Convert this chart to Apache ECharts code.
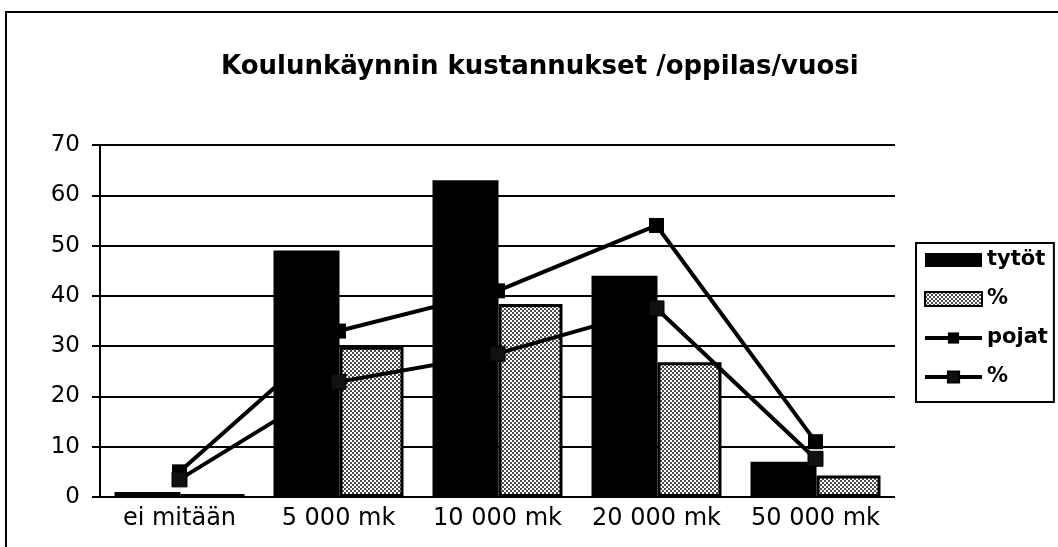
<!DOCTYPE html>
<html>
<head>
<meta charset="utf-8">
<script src="https://cdn.jsdelivr.net/npm/echarts@6/dist/echarts.min.js"></script>
<style>
  html, body { margin: 0; padding: 0; background: #fff; }
  #chart { width: 1058px; height: 547px; }
</style>
</head>
<body>
<div id="chart"></div>
<script>
// Koulunkäynnin kustannukset oppilasta kohden vuodessa
var categories = ['ei mitään', '5 000 mk', '10 000 mk', '20 000 mk', '50 000 mk'];
var tytot = [1, 49, 63, 44, 7];
var tytotPct = [0.6, 29.9, 38.4, 26.8, 4.3];
var pojat = [5, 33, 41, 54, 11];
var pojatPct = [3.5, 22.9, 28.5, 37.5, 7.6];
var yTicks = { min: 0, max: 70, interval: 10 };

// Dotted raster fill for the percentage bars
function dotPattern() {
  var c = document.createElement('canvas');
  c.width = 4; c.height = 4;
  var g = c.getContext('2d');
  g.fillStyle = '#ffffff';
  g.fillRect(0, 0, 4, 4);
  g.fillStyle = '#000000';
  g.beginPath(); g.arc(1, 1, 0.95, 0, Math.PI * 2); g.fill();
  g.beginPath(); g.arc(3, 3, 0.95, 0, Math.PI * 2); g.fill();
  return c;
}

var FONT = 'DejaVu Sans';
var chart = echarts.init(document.getElementById('chart'), null, { renderer: 'canvas' });

chart.setOption({
  backgroundColor: '#ffffff',
  animation: false,
  title: {
    text: 'Koulunkäynnin kustannukset /oppilas/vuosi',
    left: 216,
    top: 49,
    textStyle: { fontFamily: FONT, fontSize: 26, fontWeight: 'bold', color: '#000' }
  },
  graphic: [{
    type: 'polyline',
    shape: { points: [[6, 560], [6, 12], [1070, 12]] },
    style: { stroke: '#000', lineWidth: 2, fill: null },
    silent: true
  }],
  legend: {
    orient: 'vertical',
    left: 916,
    top: 243,
    padding: [6, 6, 14, 7],
    itemGap: 17,
    itemWidth: 57,
    itemHeight: 14,
    borderColor: '#000',
    borderWidth: 2,
    backgroundColor: '#fff',
    data: [
      { name: 'tytöt', icon: 'rect' },
      { name: '% tytöt', icon: 'rect' },
      { name: 'pojat' },
      { name: '% pojat' }
    ],
    lineStyle: { width: 4, color: '#000' },
    formatter: function (name) { return name.charAt(0) === '%' ? '%' : name; },
    textStyle: { fontFamily: FONT, fontSize: 21, fontWeight: 'bold', color: '#000', lineHeight: 22 }
  },
  grid: { left: 100, right: 163, top: 145, bottom: 50, containLabel: false },
  xAxis: {
    type: 'category',
    data: categories,
    axisLine: { show: false },
    axisTick: { show: false },
    axisLabel: { interval: 0, fontFamily: FONT, fontSize: 24, color: '#000', margin: 10 }
  },
  yAxis: {
    type: 'value',
    min: yTicks.min,
    max: yTicks.max,
    interval: yTicks.interval,
    axisLine: { show: true, lineStyle: { color: '#000', width: 2 } },
    axisTick: { show: true, length: 8, lineStyle: { color: '#000', width: 2 } },
    splitLine: { show: true, lineStyle: { color: '#000', width: 2 } },
    axisLabel: { fontFamily: FONT, fontSize: 23, color: '#000', margin: 20 }
  },
  series: [
    {
      name: 'tytöt',
      type: 'bar',
      data: tytot,
      barWidth: 66,
      barGap: '0%',
      itemStyle: { color: '#000' }
    },
    {
      name: '% tytöt',
      type: 'bar',
      data: tytotPct,
      barWidth: 64,
      barGap: '0%',
      itemStyle: {
        color: { image: dotPattern(), repeat: 'repeat' },
        borderColor: '#000',
        borderWidth: 3
      }
    },
    {
      name: 'pojat',
      type: 'line',
      data: pojat,
      symbol: 'rect',
      symbolSize: 15,
      lineStyle: { color: '#000', width: 4 },
      itemStyle: { color: '#000' }
    },
    {
      name: '% pojat',
      type: 'line',
      data: pojatPct,
      symbol: 'rect',
      symbolSize: 15,
      lineStyle: { color: '#000', width: 4 },
      itemStyle: { color: '#111', borderColor: '#000', borderWidth: 1 }
    }
  ]
});
</script>
</body>
</html>
